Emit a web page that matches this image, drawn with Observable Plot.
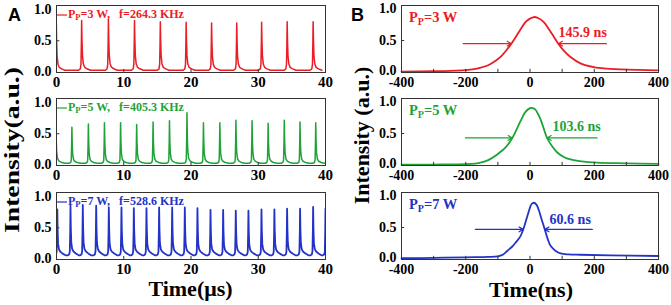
<!DOCTYPE html>
<html><head><meta charset="utf-8">
<script src="https://cdn.jsdelivr.net/npm/d3@7"></script>
<script src="https://cdn.jsdelivr.net/npm/@observablehq/plot@0.6"></script>
<style>
body{margin:0;background:#fff}
#chart{position:relative;width:671px;height:305px;overflow:hidden;background:#fff}
.cell{position:absolute}
.cell svg{overflow:visible;background:transparent}
#overlay{position:absolute;left:0;top:0;pointer-events:none}
</style>
</head><body><div id="chart"></div>
<script>
// ---------- data ----------
const pumpPowers = ["3 W", "5 W", "7 W"];
const repRates = ["264.3 KHz", "405.3 KHz", "528.6 KHz"];
const fwhmLabels = ["145.9 ns", "103.6 ns", "60.6 ns"];
const ticksAX = [0, 10, 20, 30, 40];
const minorAX = [10, 20, 30];
const ticksBX = [-400, -200, 0, 200, 400];
const minorBX = [-300, -200, -100, 0, 100, 200, 300];
const ticksY = [0, 0.5, 1.0];

// Panel A: pulse trains (peak times in µs, peak heights)
const peakT3W = [-0.03, 3.74, 7.72, 11.6, 15.44, 19.28, 23.06, 26.8, 30.5, 34.3, 38.16];
const peakH3W = [0.78, 0.83, 0.85, 0.83, 0.81, 0.80, 0.79, 0.79, 0.80, 0.81, 0.81];
const peakT5W = [-0.1, 2.29, 4.74, 7.13, 9.53, 11.92, 14.36, 16.8, 19.4, 21.85, 24.29, 26.68, 29.08, 31.47, 33.87, 36.21, 38.55];
const peakH5W = [0.8, 0.605, 0.66, 0.68, 0.68, 0.65, 0.69, 0.71, 0.84, 0.68, 0.68, 0.72, 0.71, 0.67, 0.72, 0.69, 0.68];
const peakT7W = [0.12, 2.08, 3.91, 5.9, 7.78, 9.66, 11.5, 13.38, 15.26, 17.2, 19.08, 20.96, 22.9, 24.78, 26.66, 28.54, 30.48, 32.4, 34.29, 36.22, 38.16, 40.0];
const peakH7W = [0.8, 0.86, 0.87, 0.86, 0.83, 0.83, 0.82, 0.82, 0.83, 0.83, 0.83, 0.82, 0.79, 0.79, 0.78, 0.78, 0.80, 0.80, 0.81, 0.81, 0.84, 0.81];
// single-pulse shape (offset in µs, fraction of peak above baseline)
const pulseOffsets = [-0.45, -0.2, -0.1, -0.04, 0, 0.05, 0.12, 0.25, 0.45, 0.8, 1.3];
const pulseShape3W = [0, 0.03, 0.12, 0.55, 1, 0.62, 0.3, 0.13, 0.06, 0.03, 0];
const pulseShape5W = [0, 0.02, 0.08, 0.5, 1, 0.55, 0.25, 0.1, 0.05, 0.02, 0];
const pulseShape7W = [0, 0.02, 0.08, 0.5, 1, 0.55, 0.25, 0.13, 0.08, 0.04, 0];
const baseline = [0.02, 0.02, 0.05];

// Panel B: single pulse profiles (time in ns, intensity)
const b3W_t = [-400, -300, -250, -211, -180, -159, -130, -107, -90, -76, -58, -35, -14, 0, 12, 25, 43, 60, 74, 88, 105, 126, 157, 199, 240, 282, 340, 400];
const b3W_v = [0.01, 0.015, 0.02, 0.03, 0.045, 0.065, 0.11, 0.18, 0.25, 0.33, 0.45, 0.63, 0.79, 0.845, 0.87, 0.855, 0.79, 0.67, 0.56, 0.45, 0.34, 0.24, 0.14, 0.08, 0.055, 0.043, 0.035, 0.03];
const b5W_t = [-400, -300, -200, -170, -154, -130, -102, -76, -55, -30, -14, 0, 5, 16, 33, 53, 70, 85, 105, 126, 160, 209, 300, 400];
const b5W_v = [0.01, 0.01, 0.015, 0.025, 0.04, 0.08, 0.17, 0.28, 0.43, 0.69, 0.84, 0.9, 0.905, 0.88, 0.72, 0.43, 0.29, 0.2, 0.13, 0.09, 0.06, 0.04, 0.03, 0.02];
const b7W_t = [-400, -300, -200, -130, -100, -85, -71, -55, -45, -30, -21, -10, -4, 5, 12, 20, 27, 36, 46, 55, 64, 80, 95, 120, 157, 250, 400];
const b7W_v = [0.015, 0.02, 0.03, 0.035, 0.045, 0.07, 0.13, 0.2, 0.26, 0.36, 0.47, 0.65, 0.75, 0.87, 0.89, 0.86, 0.78, 0.63, 0.47, 0.32, 0.21, 0.13, 0.09, 0.075, 0.07, 0.06, 0.05];
// FWHM arrows (ns) and label anchors
const arrowLeftFrom = [-208, -201, -170];
const arrowLeftTo = [-58, -55, -21];
const arrowRightFrom = [238, 209, 194];
const arrowRightTo = [88, 53, 46];
const arrowY = [0.45, 0.43, 0.47];
const labelX = [89, 70, 61];
const labelY = [0.56, 0.536, 0.55];

// ---------- layout / style ----------
const colors = ["#ec1c24", "#1fa338", "#2233c8"];
const lineWidths = [1.5, 1.5, 1.8];
const frameTops = [5, 98, 192];
const frameH = 67;
const serif = "'Liberation Serif','Times New Roman',serif";
const chart = document.getElementById("chart");

const trainsT = [peakT3W, peakT5W, peakT7W];
const trainsH = [peakH3W, peakH5W, peakH7W];
const shapes = [pulseShape3W, pulseShape5W, pulseShape7W];
const profT = [b3W_t, b5W_t, b7W_t];
const profV = [b3W_v, b5W_v, b7W_v];

function place(node, left, top) {
  const d = document.createElement("div");
  d.className = "cell";
  d.style.left = left + "px";
  d.style.top = top + "px";
  d.appendChild(node);
  chart.appendChild(d);
}

const yA = [-0.016, 1.073];
const yB = [-0.005, 1.052];

for (let i = 0; i < 3; i++) {
  // ---- Panel A row ----
  const data = [];
  trainsT[i].forEach((t0, j) => {
    const h = trainsH[i][j];
    pulseOffsets.forEach((o, k) => data.push({t: t0 + o, v: baseline[i] + (h - baseline[i]) * shapes[i][k]}));
  });
  data.sort((a, b) => a.t - b.t);
  const pa = Plot.plot({
    width: 335, height: frameH + 25, marginLeft: 56, marginRight: 10, marginTop: 5, marginBottom: 20,
    x: {domain: [0, 40]}, y: {domain: yA},
    style: {fontFamily: serif, fontWeight: "bold", fontSize: "14px", color: "black", background: "transparent", overflow: "visible"},
    marks: [
      Plot.line(data, {x: "t", y: "v", stroke: colors[i], strokeWidth: lineWidths[i], clip: true}),
      Plot.ruleX(minorAX, {y1: yA[0], y2: yA[0] + 0.05, stroke: "#333"}),
      Plot.ruleY([0.5], {x1: 0, x2: 0.5, stroke: "#333"}),
      Plot.frame({stroke: "#333", strokeWidth: 1}),
      Plot.axisX(ticksAX, {tickSize: 0, tickPadding: 4, label: null, fontSize: 15, fill: "black"}),
      Plot.axisY(ticksY, {tickSize: 0, tickPadding: 5, label: null, tickFormat: d3.format(".1f"), fill: "black"})
    ]
  });
  place(pa, 0, frameTops[i] - 5);

  // ---- Panel B row ----
  const prof = profT[i].map((t, j) => ({t, v: profV[i][j]}));
  const arrows = [
    {x1: arrowLeftFrom[i], x2: arrowLeftTo[i], y: arrowY[i]},
    {x1: arrowRightFrom[i], x2: arrowRightTo[i], y: arrowY[i]}
  ];
  const pb = Plot.plot({
    width: 326, height: frameH + 25, marginLeft: 56, marginRight: 13, marginTop: 5, marginBottom: 20,
    x: {domain: [-400, 400]}, y: {domain: yB},
    style: {fontFamily: serif, fontWeight: "bold", fontSize: "14px", color: "black", background: "transparent", overflow: "visible"},
    marks: [
      Plot.line(prof, {x: "t", y: "v", curve: "catmull-rom", stroke: colors[i], strokeWidth: 1.8}),
      Plot.arrow(arrows, {x1: "x1", x2: "x2", y1: "y", y2: "y", stroke: colors[i], strokeWidth: 1.2, headLength: 6}),
      Plot.text([fwhmLabels[i]], {x: labelX[i], y: labelY[i], text: d => d, textAnchor: "start", lineAnchor: "bottom", fill: colors[i], fontSize: 14}),
      Plot.ruleX(minorBX, {y1: yB[0], y2: yB[0] + 0.05, stroke: "#333"}),
      Plot.ruleY([0.5], {x1: -400, x2: -390, stroke: "#333"}),
      Plot.frame({stroke: "#333", strokeWidth: 1}),
      Plot.axisX(ticksBX, {tickSize: 0, tickPadding: 5, label: null, fontSize: 14, fill: "black", tickFormat: d => String(d)}),
      Plot.axisY(ticksY.slice(1), {tickSize: 0, tickPadding: 5, label: null, tickFormat: d3.format(".1f"), fill: "black"}),
      Plot.axisY([0], {tickSize: 0, tickPadding: 5, label: null, tickFormat: d3.format(".1f"), fill: "black", dy: -2})
    ]
  });
  place(pb, 345, frameTops[i] - 5);
}

// ---------- overlay text: panel letters, legends, axis titles ----------
let ov = `<svg id="overlay" width="671" height="305" xmlns="http://www.w3.org/2000/svg">`;
ov += `<text x="14.5" y="21" text-anchor="middle" font-family="'Liberation Sans',Arial,sans-serif" font-weight="bold" font-size="18">A</text>`;
ov += `<text x="357.5" y="21" text-anchor="middle" font-family="'Liberation Sans',Arial,sans-serif" font-weight="bold" font-size="18">B</text>`;
for (let i = 0; i < 3; i++) {
  const T = frameTops[i];
  ov += `<line x1="57" x2="67" y1="${T + 10}" y2="${T + 10}" stroke="${colors[i]}" stroke-width="1.2"/>`;
  ov += `<text x="68" y="${T + 13}" fill="${colors[i]}" font-family="${serif}" font-weight="bold" font-size="12" style="white-space:pre">P<tspan font-size="8.5" dy="2">P</tspan><tspan dy="-2">=${pumpPowers[i]},   f=${repRates[i]}</tspan></text>`;
  ov += `<text x="409" y="${T + 16.5}" fill="${colors[i]}" font-family="${serif}" font-weight="bold" font-size="14.5">P<tspan font-size="10" dy="3">P</tspan><tspan dy="-3">=${pumpPowers[i]}</tspan></text>`;
}
ov += `<text x="190.5" y="296" text-anchor="middle" font-family="${serif}" font-weight="bold" font-size="22">Time(μs)</text>`;
ov += `<text x="531" y="297" text-anchor="middle" font-family="${serif}" font-weight="bold" font-size="22">Time(ns)</text>`;
ov += `<text transform="translate(18.5,150) rotate(-90)" text-anchor="middle" font-family="${serif}" font-weight="bold" font-size="22" textLength="166" lengthAdjust="spacingAndGlyphs">Intensity(a.u.)</text>`;
ov += `<text transform="translate(368.5,135.5) rotate(-90)" text-anchor="middle" font-family="${serif}" font-weight="bold" font-size="22">Intensity (a.u.)</text>`;
ov += `</svg>`;
chart.insertAdjacentHTML("beforeend", ov);
</script>
</body></html>
